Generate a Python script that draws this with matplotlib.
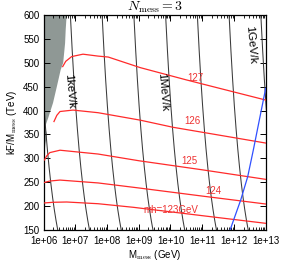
import numpy as np
import matplotlib
matplotlib.use("Agg")
import matplotlib.pyplot as plt
from matplotlib.ticker import LogLocator, FixedLocator, NullFormatter

plt.rcParams['font.family'] = ['Liberation Sans', 'DejaVu Sans']
plt.rcParams['mathtext.fontset'] = 'cm'

# ---- data ----
# Higgs-mass contours: log10(M_mess/GeV) and kF/M_mess (TeV)
mh127_logM = [6.605, 6.70, 6.888, 7.244, 7.717, 8.04, 9.04, 10.51, 13.0]
mh127_lam = [492, 503, 513, 518, 514, 512, 490, 464, 422]
mh126_logM = [6.33, 6.42, 6.52, 6.93, 7.72, 9.04, 10.08, 13.0]
mh126_lam = [377, 390, 398, 401, 395.5, 380, 365, 332]
mh125_logM = [6.03, 6.10, 6.20, 6.52, 7.72, 9.0, 11.0, 13.0]
mh125_lam = [296.5, 305, 312, 317, 309, 295, 276, 256]
mh124_logM = [6.0, 6.2, 6.52, 7.72, 9.0, 11.0, 13.0]
mh124_lam = [249, 252.5, 254.5, 248.5, 238, 221, 204.4]
mh123_logM = [6.0, 6.3, 6.73, 7.72, 8.83, 11.0, 13.0]
mh123_lam = [206.5, 208, 208.6, 205, 197.5, 180, 164]

# blue curve
blue_logM = [11.877, 12.213, 12.433, 12.61, 12.82, 13.0]
blue_lam = [150, 212.8, 261.6, 317.4, 387, 446.6]

# excluded (grey) region boundary
grey_logM = [6.0, 6.73, 6.70, 6.68, 6.62, 6.54, 6.42, 6.30, 6.15, 6.05, 6.11, 6.06, 6.02, 6.0]
grey_lam = [600, 600, 570, 541, 500, 485, 450, 416, 385, 366, 349, 330, 303, 300]

# gravitino-mass contours m_3/2 * k (GeV)
m32_levels = [1e-7, 1e-6, 1e-5, 1e-4, 1e-3, 1e-2, 1e-1, 1e0]
MPL = 2.435e18

# labels
red_labels = ["127", "126", "125", "124", "mh=123GeV"]
red_label_logM = [10.77, 10.68, 10.58, 11.34, 10.02]
red_label_lam = [468, 379, 294, 231.6, 191]
m32_labels = ["1keV/k", "1MeV/k", "1GeV/k"]
m32_label_logM = [6.835, 9.75, 12.54]
m32_label_lam = [441, 438, 537]

xtick_labels = ["1e+06", "1e+07", "1e+08", "1e+09", "1e+10", "1e+11", "1e+12", "1e+13"]
ytick_vals = [150, 200, 250, 300, 350, 400, 450, 500, 550, 600]

# ---- figure ----
fig = plt.figure(figsize=(2.81, 2.62), dpi=100)
ax = fig.add_axes([43.5 / 281, 1 - 230 / 262, (265.7 - 43.5) / 281, (230 - 15) / 262])
ax.set_xscale('log')
ax.set_xlim(1e6, 1e13)
ax.set_ylim(150, 600)

ax.fill(10 ** np.array(grey_logM), grey_lam, color='#8f9895', lw=0, zorder=1)

lam_grid = np.linspace(150, 600, 200)
for m in m32_levels:
    M = m * np.sqrt(3) * MPL / (lam_grid * 1e3)
    ax.plot(M, lam_grid, color='#3a3a3a', lw=0.75, zorder=2)

red = '#ff2a2a'
for lx, ly in [(mh127_logM, mh127_lam), (mh126_logM, mh126_lam), (mh125_logM, mh125_lam),
               (mh124_logM, mh124_lam), (mh123_logM, mh123_lam)]:
    ax.plot(10 ** np.array(lx), ly, color=red, lw=0.9, zorder=3)

ax.plot(10 ** np.array(blue_logM), blue_lam, color='#3050ff', lw=0.9, zorder=3)

for t, lx, ly in zip(red_labels, red_label_logM, red_label_lam):
    ax.text(10 ** lx, ly, t, color='#ee3333', fontsize=7, ha='center', va='center', zorder=4)
for t, lx, ly in zip(m32_labels, m32_label_logM, m32_label_lam):
    ax.text(10 ** lx, ly, t, color='black', fontsize=8.2, ha='center', va='center',
            rotation=-85, rotation_mode='anchor', zorder=4)

ax.xaxis.set_major_locator(FixedLocator([10.0 ** k for k in range(6, 14)]))
ax.set_xticklabels(xtick_labels)
ax.xaxis.set_minor_locator(LogLocator(base=10, subs=np.arange(2, 10), numticks=20))
ax.xaxis.set_minor_formatter(NullFormatter())
ax.set_yticks(ytick_vals)
ax.tick_params(which='both', direction='in', top=True, right=True, labelsize=7)
ax.tick_params(axis='x', which='major', pad=4.5)
ax.tick_params(axis='y', which='major', pad=3)
ax.tick_params(which='major', length=4, width=0.7)
ax.tick_params(which='minor', length=2, width=0.6)
for s in ax.spines.values():
    s.set_linewidth(0.9)

ax.set_title(r'$N_{\rm mess} = 3$', fontsize=10, pad=0.5)
ax.set_xlabel(r'M$_{\rm mess}$ (GeV)', fontsize=7, labelpad=1.5)
ax.set_ylabel(r'kF/M$_{\rm mess}$ (TeV)', fontsize=7, labelpad=3)

fig.savefig('out.png', dpi=100)
